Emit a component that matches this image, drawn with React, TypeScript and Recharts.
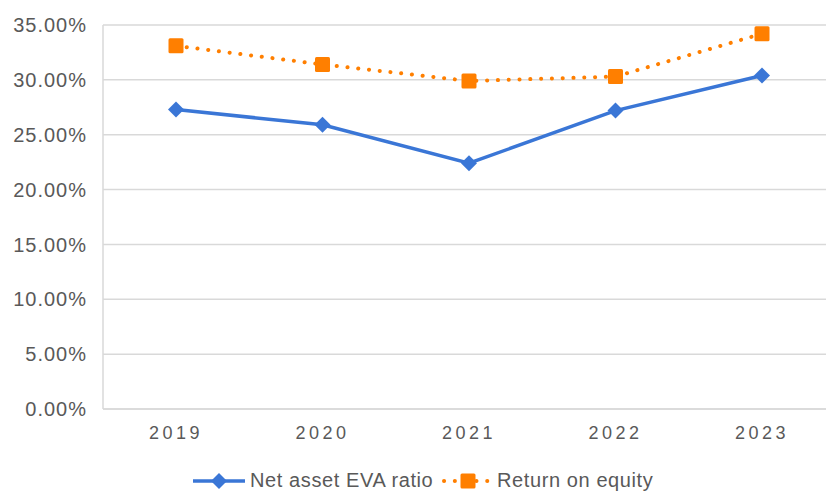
import { LineChart, Line, XAxis, YAxis, CartesianGrid } from "recharts";

const years = ["2019", "2020", "2021", "2022", "2023"];
const evaRatio = [27.3, 25.9, 22.4, 27.2, 30.4];
const roe = [33.1, 31.4, 29.9, 30.3, 34.2];
const yTicks = [0, 5, 10, 15, 20, 25, 30, 35];

const BLUE = "#3a76d6";
const ORANGE = "#ff7f00";
const TEXT = "#595959";
const FONT = "'Liberation Sans', Arial, Helvetica, sans-serif";

const data = years.map((y, i) => ({ year: y, eva: evaRatio[i], roe: roe[i] }));

function Diamond(props: any) {
  const { cx, cy } = props;
  if (cx == null || cy == null) return null;
  const r = 8;
  return (
    <polygon
      key={`d-${props.index}`}
      points={`${cx},${cy - r} ${cx + r},${cy} ${cx},${cy + r} ${cx - r},${cy}`}
      fill={BLUE}
    />
  );
}

function Square(props: any) {
  const { cx, cy } = props;
  if (cx == null || cy == null) return null;
  const s = 15;
  return (
    <rect
      key={`s-${props.index}`}
      x={cx - s / 2}
      y={cy - s / 2}
      width={s}
      height={s}
      rx={1.5}
      fill={ORANGE}
    />
  );
}

function LegendRow() {
  const textStyle: React.CSSProperties = {
    position: "absolute",
    top: 471,
    fontSize: 20,
    letterSpacing: 0.6,
    color: TEXT,
    fontFamily: FONT,
    lineHeight: "18px",
    whiteSpace: "nowrap",
  };
  return (
    <>
      <svg style={{ position: "absolute", left: 193, top: 472 }} width={54} height={18}>
        <line x1={0} y1={9} x2={52} y2={9} stroke={BLUE} strokeWidth={3.5} />
        <polygon points="26,1 34,9 26,17 18,9" fill={BLUE} />
      </svg>
      <div style={{ ...textStyle, left: 250 }}>Net asset EVA ratio</div>
      <svg style={{ position: "absolute", left: 441, top: 472 }} width={54} height={18}>
        <line
          x1={3}
          y1={9}
          x2={50}
          y2={9}
          stroke={ORANGE}
          strokeWidth={4}
          strokeDasharray="0.1 10.7"
          strokeLinecap="round"
        />
        <rect x={19.5} y={1.5} width={15} height={15} rx={1.5} fill={ORANGE} />
      </svg>
      <div style={{ ...textStyle, left: 497 }}>Return on equity</div>
    </>
  );
}

export default function App() {
  return (
    <div
      style={{
        position: "fixed",
        left: 0,
        top: 0,
        width: 826,
        height: 492,
        overflow: "hidden",
        background: "#fff",
      }}
    >
      <LineChart
        width={850}
        height={492}
        data={data}
        margin={{ top: 25, right: 15, bottom: 53, left: 0 }}
      >
        <CartesianGrid vertical={false} stroke="#d9d9d9" strokeWidth={1.5} />
        <XAxis
          dataKey="year"
          padding={{ left: 73, right: 73 }}
          height={30}
          tickLine={false}
          tickSize={0}
          tickMargin={17}
          axisLine={{ stroke: "#d9d9d9", strokeWidth: 1.5 }}
          tick={{ fill: TEXT, fontSize: 18, fontFamily: FONT, letterSpacing: 3.5 }}
        />
        <YAxis
          width={103}
          domain={[0, 35]}
          ticks={yTicks}
          tickFormatter={(v: number) => `${v.toFixed(2)}%`}
          tickLine={false}
          tickSize={0}
          tickMargin={16}
          axisLine={{ stroke: "#d9d9d9", strokeWidth: 1.5 }}
          tick={{ fill: TEXT, fontSize: 20, fontFamily: FONT, letterSpacing: 1 }}
        />
        <Line
          dataKey="eva"
          stroke={BLUE}
          strokeWidth={3.5}
          dot={(p: any) => <Diamond {...p} />}
          activeDot={false}
          isAnimationActive={false}
        />
        <Line
          dataKey="roe"
          stroke={ORANGE}
          strokeWidth={4}
          strokeDasharray="0.1 10.7"
          strokeLinecap="round"
          dot={(p: any) => <Square {...p} />}
          activeDot={false}
          isAnimationActive={false}
        />
      </LineChart>
      <LegendRow />
    </div>
  );
}
